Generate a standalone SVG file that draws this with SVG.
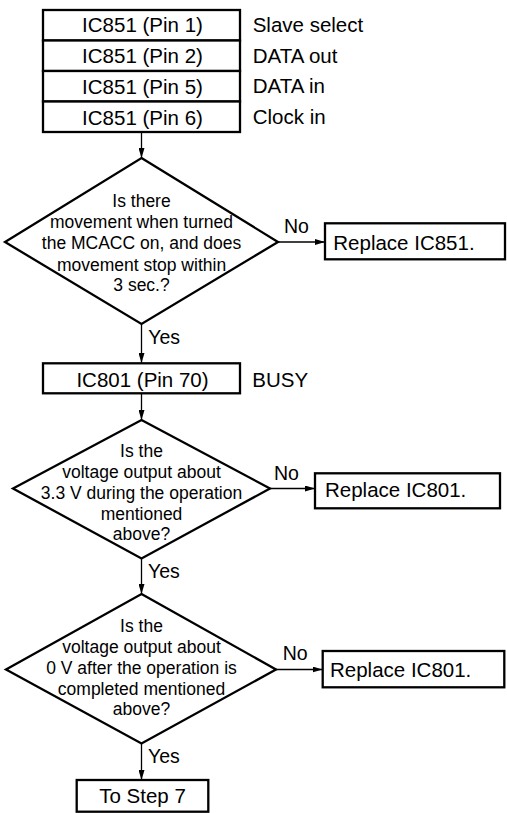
<svg xmlns="http://www.w3.org/2000/svg" width="507" height="813" viewBox="0 0 507 813">
<style>
.box{fill:#fff;stroke:#000;stroke-width:2.3}
.dia{fill:#fff;stroke:#000;stroke-width:2.3;stroke-linejoin:miter}
.t{font-family:"Liberation Sans",Arial,Helvetica,sans-serif;font-size:20.5px;fill:#000}
.c{text-anchor:middle}
.q{font-family:"Liberation Sans",Arial,Helvetica,sans-serif;font-size:17.5px;fill:#000;text-anchor:middle}
.lbl{font-family:"Liberation Sans",Arial,Helvetica,sans-serif;font-size:19.5px;fill:#000}
.conn{stroke:#000;stroke-width:1.3;fill:none;marker-end:url(#ah)}
</style>
<defs>
<marker id="ah" viewBox="0 0 10 6" refX="10" refY="3" markerWidth="10" markerHeight="6" markerUnits="userSpaceOnUse" orient="auto">
<path d="M0,0 L10,3 L0,6 Z" fill="#000"/>
</marker>
</defs>
<rect width="507" height="813" fill="#fff"/>
<g id="connectors">
<line class="conn" x1="141.5" y1="132" x2="141.5" y2="158"/>
<line class="conn" x1="278" y1="242" x2="325" y2="242"/>
<line class="conn" x1="141.5" y1="324" x2="141.5" y2="363"/>
<line class="conn" x1="141.5" y1="393.5" x2="141.5" y2="420"/>
<line class="conn" x1="270" y1="488.5" x2="315" y2="488.5"/>
<line class="conn" x1="141.5" y1="558.5" x2="141.5" y2="594"/>
<line class="conn" x1="276" y1="669.5" x2="322.5" y2="669.5"/>
<line class="conn" x1="141.5" y1="743.5" x2="141.5" y2="780"/>
<text class="lbl" x="284" y="233.3">No</text>
<text class="lbl" x="148.3" y="344">Yes</text>
<text class="lbl" x="274" y="479.5">No</text>
<text class="lbl" x="148" y="578">Yes</text>
<text class="lbl" x="282.7" y="660">No</text>
<text class="lbl" x="148" y="763.3">Yes</text>
</g>
<g id="pins851">
<rect class="box" x="43" y="10" width="197" height="30.5"/>
<rect class="box" x="43" y="40.5" width="197" height="30.5"/>
<rect class="box" x="43" y="71" width="197" height="30.5"/>
<rect class="box" x="43" y="101.5" width="197" height="30.5"/>
<text class="t c" x="142.5" y="32.3">IC851 (Pin 1)</text>
<text class="t c" x="142.5" y="63">IC851 (Pin 2)</text>
<text class="t c" x="142.5" y="94">IC851 (Pin 5)</text>
<text class="t c" x="142.5" y="124.8">IC851 (Pin 6)</text>
<text class="t" x="252.7" y="32.3">Slave select</text>
<text class="t" x="252.7" y="62.7">DATA out</text>
<text class="t" x="252.7" y="93.3">DATA in</text>
<text class="t" x="252.7" y="124">Clock in</text>
</g>
<g id="q1">
<polygon class="dia" points="141.5,158 278,242 141.5,324 5,242"/>
<text class="q" x="141.5" y="207">Is there</text>
<text class="q" x="141.5" y="227.5">movement when turned</text>
<text class="q" x="141.5" y="249.3">the MCACC on, and does</text>
<text class="q" x="141.5" y="270.7">movement stop within</text>
<text class="q" x="141.5" y="290.7">3 sec.?</text>
</g>
<g id="r851">
<rect class="box" x="325" y="223.3" width="180" height="36"/>
<text class="t" x="333.3" y="250">Replace IC851.</text>
</g>
<g id="pin801">
<rect class="box" x="43" y="363.3" width="197" height="30"/>
<text class="t c" x="142.5" y="387.3">IC801 (Pin 70)</text>
<text class="t" x="252.3" y="387.3">BUSY</text>
</g>
<g id="q2">
<polygon class="dia" points="141.5,420 270,488.5 141.5,558.5 13,488.5"/>
<text class="q" x="141.5" y="457.3">Is the</text>
<text class="q" x="141.5" y="478.3">voltage output about</text>
<text class="q" x="141.5" y="499.3">3.3 V during the operation</text>
<text class="q" x="141.5" y="520">mentioned</text>
<text class="q" x="141.5" y="540">above?</text>
</g>
<g id="r801a">
<rect class="box" x="315" y="473.3" width="185" height="35"/>
<text class="t" x="325" y="496.7">Replace IC801.</text>
</g>
<g id="q3">
<polygon class="dia" points="141.5,594 276,669.5 141.5,743.5 6,669.5"/>
<text class="q" x="141.5" y="632.3">Is the</text>
<text class="q" x="141.5" y="652.5">voltage output about</text>
<text class="q" x="141.5" y="674.3">0 V after the operation is</text>
<text class="q" x="141.5" y="695">completed mentioned</text>
<text class="q" x="141.5" y="715">above?</text>
</g>
<g id="r801b">
<rect class="box" x="322.7" y="651" width="181.6" height="36.3"/>
<text class="t" x="330" y="677.3">Replace IC801.</text>
</g>
<g id="step7">
<rect class="box" x="76.7" y="780" width="131.6" height="31.7"/>
<text class="t c" x="142.5" y="802.7">To Step 7</text>
</g>
</svg>
